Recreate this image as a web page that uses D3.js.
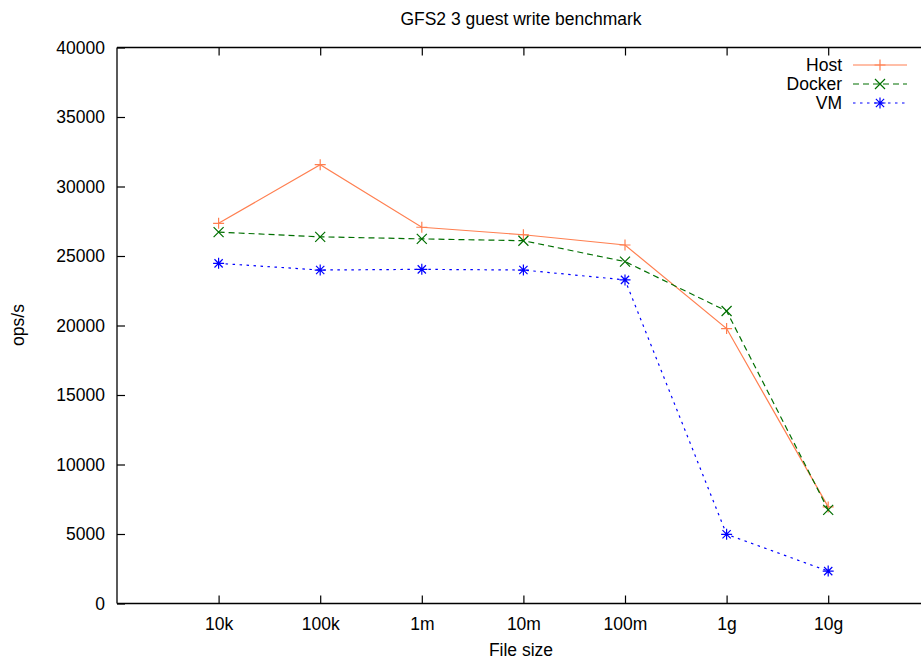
<!DOCTYPE html>
<html>
<head>
<meta charset="utf-8">
<script src="https://cdn.jsdelivr.net/npm/d3@7"></script>
<style>
  body { margin: 0; background: #fff; }
  text { font-family: "Liberation Sans", Arial, sans-serif; fill: #000; }
</style>
</head>
<body>
<svg width="921" height="660"></svg>
<script>
const width = 921,
  height = 660;

const fileSizes = ["10k", "100k", "1m", "10m", "100m", "1g", "10g"];
const hostOps = [27350, 31570, 27070, 26530, 25790, 19780, 6950];
const dockerOps = [26720, 26380, 26230, 26100, 24600, 21040, 6740];
const vmOps = [24470, 23990, 24040, 23990, 23280, 4980, 2330];
const yTicks = [0, 5000, 10000, 15000, 20000, 25000, 30000, 35000, 40000];

const series = [
  { name: "Host", values: hostOps, color: "#ff7f50", dash: null, marker: "plus" },
  { name: "Docker", values: dockerOps, color: "#006f00", dash: "6,4", marker: "cross" },
  { name: "VM", values: vmOps, color: "#0000ff", dash: "2.5,4.5", marker: "star" }
];

const plotLeft = 117,
  plotTop = 47.5,
  plotBottom = 603.5;

const svg = d3.select("svg");

// category index -> pixel, the frame runs from index -1 to 7 (right edge off canvas)
const x = d3.scaleLinear().domain([-1, 7]).range([plotLeft, plotLeft + 8 * 101.6]);
const y = d3.scaleLinear().domain([0, 40000]).range([plotBottom, plotTop]);

const markerPath = (type, s) => {
  if (type === "plus") return `M${-s},0H${s}M0,${-s}V${s}`;
  if (type === "cross") return `M${-s},${-s}L${s},${s}M${-s},${s}L${s},${-s}`;
  return `M${-s},0H${s}M0,${-s}V${s}M${-s * 0.75},${-s * 0.75}L${s * 0.75},${s * 0.75}M${-s * 0.75},${s * 0.75}L${s * 0.75},${-s * 0.75}`;
};

// frame
const frame = svg.append("g");
frame.append("line").attr("x1", plotLeft).attr("x2", width + 10).attr("y1", plotTop).attr("y2", plotTop);
frame.append("line").attr("x1", plotLeft).attr("x2", width + 10).attr("y1", plotBottom).attr("y2", plotBottom);
frame.append("line").attr("x1", plotLeft).attr("x2", plotLeft).attr("y1", plotTop).attr("y2", plotBottom);
frame.selectAll("line").attr("stroke", "#000").attr("stroke-width", 1.3);

// y axis
const yAxis = svg
  .append("g")
  .attr("transform", `translate(${plotLeft},0)`)
  .call(d3.axisLeft(y).tickValues(yTicks).tickSize(-8).tickPadding(12).tickFormat(d3.format("d")));
yAxis.select(".domain").remove();
yAxis.selectAll("line").attr("stroke", "#000").attr("stroke-width", 1.2);
yAxis.selectAll("text").attr("font-size", 17.5).attr("font-family", "Liberation Sans, Arial, sans-serif");

// x axis (bottom, plus mirrored ticks on top)
const xAxis = svg
  .append("g")
  .attr("transform", `translate(0,${plotBottom})`)
  .call(
    d3.axisBottom(x)
      .tickValues(d3.range(fileSizes.length))
      .tickSize(-8)
      .tickPadding(14)
      .tickFormat(i => fileSizes[i])
  );
xAxis.select(".domain").remove();
xAxis.selectAll("line").attr("stroke", "#000").attr("stroke-width", 1.2);
xAxis.selectAll("text").attr("font-size", 17.5).attr("font-family", "Liberation Sans, Arial, sans-serif");

const xTop = svg
  .append("g")
  .attr("transform", `translate(0,${plotTop})`)
  .call(d3.axisTop(x).tickValues(d3.range(fileSizes.length)).tickSize(-8).tickFormat(""));
xTop.select(".domain").remove();
xTop.selectAll("line").attr("stroke", "#000").attr("stroke-width", 1.2);

// series
const line = d3
  .line()
  .x((d, i) => x(i))
  .y(d => y(d));

series.forEach(s => {
  svg
    .append("path")
    .datum(s.values)
    .attr("fill", "none")
    .attr("stroke", s.color)
    .attr("stroke-width", 1.2)
    .attr("stroke-dasharray", s.dash)
    .attr("d", line);

  svg
    .append("g")
    .selectAll("path")
    .data(s.values)
    .join("path")
    .attr("transform", (d, i) => `translate(${x(i)},${y(d)})`)
    .attr("d", markerPath(s.marker, s.marker === "cross" ? 5 : 5.5))
    .attr("stroke", s.color)
    .attr("stroke-width", 1.2)
    .attr("fill", "none");
});

// legend
const legend = svg.append("g");
series.forEach((s, i) => {
  const ly = 65 + i * 19;
  legend
    .append("text")
    .attr("x", 842)
    .attr("y", ly)
    .attr("dy", "0.35em")
    .attr("text-anchor", "end")
    .attr("font-size", 17.5)
    .text(s.name);
  legend
    .append("line")
    .attr("x1", 853)
    .attr("x2", 907)
    .attr("y1", ly)
    .attr("y2", ly)
    .attr("stroke", s.color)
    .attr("stroke-width", 1.2)
    .attr("stroke-dasharray", s.dash);
  legend
    .append("path")
    .attr("transform", `translate(880,${ly})`)
    .attr("d", markerPath(s.marker, s.marker === "cross" ? 5 : 5.5))
    .attr("stroke", s.color)
    .attr("stroke-width", 1.2)
    .attr("fill", "none");
});

// titles
svg
  .append("text")
  .attr("x", 521)
  .attr("y", 25)
  .attr("text-anchor", "middle")
  .attr("font-size", 17.5)
  .text("GFS2 3 guest write benchmark");

svg
  .append("text")
  .attr("x", 521)
  .attr("y", 656)
  .attr("text-anchor", "middle")
  .attr("font-size", 17.5)
  .text("File size");

svg
  .append("text")
  .attr("transform", "translate(24,325) rotate(-90)")
  .attr("text-anchor", "middle")
  .attr("font-size", 17.5)
  .text("ops/s");
</script>
</body>
</html>
